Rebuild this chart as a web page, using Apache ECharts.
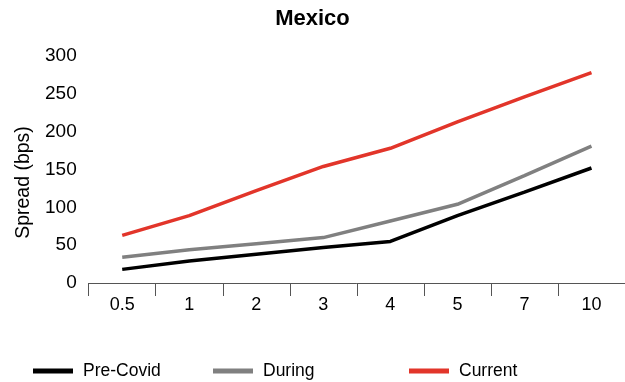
<!DOCTYPE html>
<html>
<head>
<meta charset="utf-8">
<script src="https://cdn.jsdelivr.net/npm/echarts@6/dist/echarts.min.js"></script>
<style>
html,body{margin:0;padding:0;background:#fff;}
#main{width:625px;height:382px;}
</style>
</head>
<body>
<div id="main"></div>
<script>
var categories = ['0.5', '1', '2', '3', '4', '5', '7', '10'];
var preCovid = [18, 29, 38, 47, 55, 89, 120, 152];
var during = [34, 44, 52, 60, 82, 104, 142, 181];
var current = [63, 89, 122, 154, 178, 213, 246, 278];
var yTicks = [0, 50, 100, 150, 200, 250, 300];

var FONT = '"Liberation Sans", Arial, Helvetica, sans-serif';
var chart = echarts.init(document.getElementById('main'));

function legendFor(name, left) {
  return {
    data: [name],
    left: left,
    top: 362,
    icon: 'rect',
    itemWidth: 40,
    itemHeight: 5,
    padding: 0,
    textStyle: { fontFamily: FONT, fontSize: 17.5, color: '#000', padding: [0, 0, 0, 5] }
  };
}

chart.setOption({
  animation: false,
  backgroundColor: '#fff',
  title: {
    text: 'Mexico',
    left: 'center',
    top: 3,
    textStyle: { fontFamily: FONT, fontSize: 22, fontWeight: 'bold', color: '#000' }
  },
  legend: [legendFor('Pre-Covid', 33), legendFor('During', 213), legendFor('Current', 409)],
  grid: { left: 88.7, right: -2.3, top: 56, bottom: 99, containLabel: false },
  xAxis: {
    type: 'category',
    data: categories,
    boundaryGap: true,
    axisLine: { lineStyle: { color: '#555', width: 1 } },
    axisTick: { show: true, length: 13, interval: 0, lineStyle: { color: '#555' } },
    axisLabel: { fontFamily: FONT, fontSize: 18, color: '#000', margin: 13, interval: 0 }
  },
  yAxis: {
    type: 'value',
    min: yTicks[0],
    max: yTicks[yTicks.length - 1],
    interval: 50,
    name: 'Spread (bps)',
    nameLocation: 'middle',
    nameGap: 51,
    nameTextStyle: { fontFamily: FONT, fontSize: 19.5, color: '#000', padding: [0, 26, 0, 0] },
    axisLine: { show: false },
    axisTick: { show: false },
    splitLine: { show: false },
    axisLabel: { fontFamily: FONT, fontSize: 19, color: '#000', margin: 12 }
  },
  series: [
    { name: 'Pre-Covid', type: 'line', data: preCovid, symbol: 'none', color: '#000000', lineStyle: { width: 3.5, color: '#000000' } },
    { name: 'During', type: 'line', data: during, symbol: 'none', color: '#808080', lineStyle: { width: 3.5, color: '#808080' } },
    { name: 'Current', type: 'line', data: current, symbol: 'none', color: '#e2352a', lineStyle: { width: 3.5, color: '#e2352a' } }
  ]
});
</script>
</body>
</html>
